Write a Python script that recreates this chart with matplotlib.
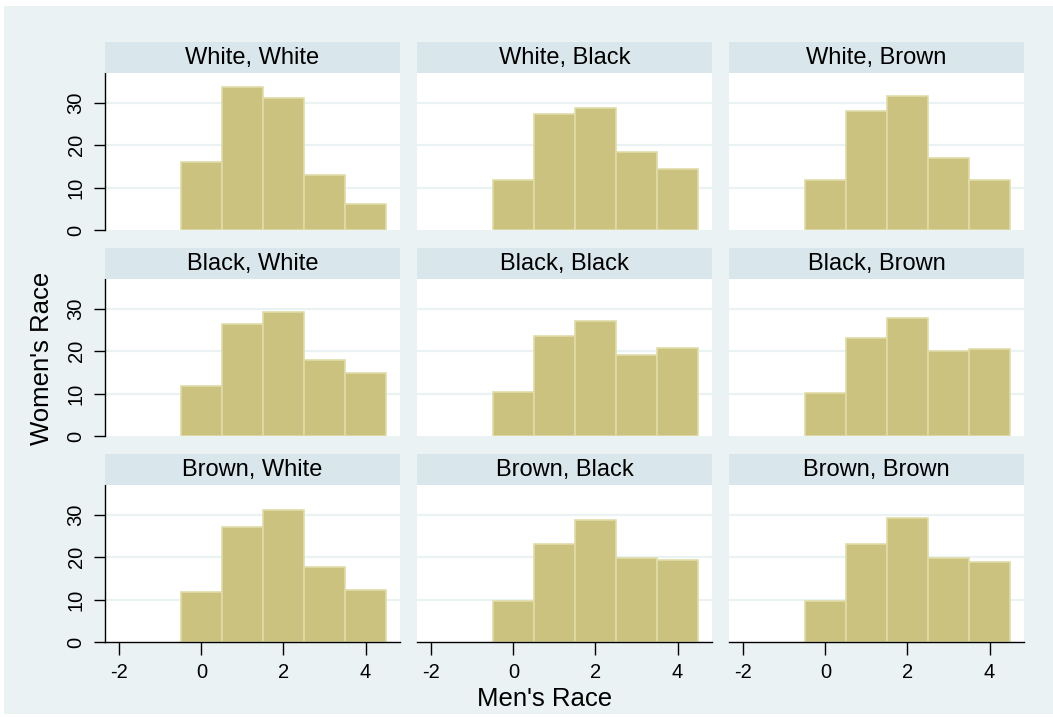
import matplotlib
matplotlib.use("Agg")
import matplotlib.pyplot as plt
from matplotlib.patches import Rectangle

plt.rcParams['font.family'] = ['Liberation Sans', 'DejaVu Sans']
plt.rcParams['axes.unicode_minus'] = False

# ---- data ----
panel_titles = [
    "White, White", "White, Black", "White, Brown",
    "Black, White", "Black, Black", "Black, Brown",
    "Brown, White", "Brown, Black", "Brown, Brown",
]
categories = [0, 1, 2, 3, 4]
ww = [16.1, 33.7, 31.1, 12.9, 6.2]
wbl = [11.7, 27.3, 28.7, 18.4, 14.4]
wbr = [11.9, 28.1, 31.6, 17.0, 11.9]
bw = [11.8, 26.5, 29.2, 17.8, 14.8]
bbl = [10.3, 23.5, 27.1, 19.0, 20.8]
bbr = [10.1, 23.0, 27.7, 20.0, 20.6]
brw = [11.7, 27.2, 31.0, 17.6, 12.3]
brbl = [9.7, 23.0, 28.7, 19.9, 19.3]
brbr = [9.7, 23.0, 29.2, 19.7, 18.8]
panel_values = [ww, wbl, wbr, bw, bbl, bbr, brw, brbl, brbr]
y_ticks = [0, 10, 20, 30]
x_ticks = [-2, 0, 2, 4]
x_label = "Men's Race"
y_label = "Women's Race"

# ---- style ----
W, H = 1053, 717
BG = '#EAF2F3'
STRIP = '#D9E6EB'
BAR = '#CAC27E'
BAR_EDGE = '#E0DCA8'

fig = plt.figure(figsize=(W / 100, H / 100), dpi=100)
fig.patch.set_facecolor('white')
fig.add_artist(Rectangle((4 / W, 1 - 714 / H), (W - 4) / W, (714 - 6) / H,
                         transform=fig.transFigure, facecolor=BG,
                         edgecolor='none', zorder=-10))

col_left = [105, 417, 729]
col_w = 295
plot_top = [73, 279, 485]
plot_h = 157
strip_h = 31

for i, (title, vals) in enumerate(zip(panel_titles, panel_values)):
    r, c = divmod(i, 3)
    left = col_left[c] / W
    width = col_w / W
    bottom = 1 - (plot_top[r] + plot_h) / H
    height = plot_h / H
    ax = fig.add_axes([left, bottom, width, height])
    ax.set_facecolor('white')
    ax.bar(categories, vals, width=1.0, color=BAR, edgecolor=BAR_EDGE,
           linewidth=1.2, zorder=3)
    ax.set_xlim(-2.35, 4.84)
    ax.set_ylim(0, 37)
    for yv in y_ticks[1:]:
        ax.axhline(yv, color=BG, linewidth=1.6, zorder=1)
    for s in ['top', 'right']:
        ax.spines[s].set_visible(False)
    ax.spines['left'].set_visible(c == 0)
    ax.spines['bottom'].set_visible(r == 2)
    for s in ['left', 'bottom']:
        ax.spines[s].set_color('black')
        ax.spines[s].set_linewidth(1.0)
        ax.spines[s].set_zorder(4)
    ax.set_yticks(y_ticks)
    ax.set_xticks(x_ticks)
    ax.tick_params(axis='y', left=(c == 0), labelleft=(c == 0),
                   length=8, width=1.0, pad=6, labelsize=14.5, color='black')
    ax.tick_params(axis='x', bottom=(r == 2), labelbottom=(r == 2),
                   length=9, width=1.0, pad=6, labelsize=14.5, color='black')
    if c == 0:
        for lab in ax.get_yticklabels():
            lab.set_rotation(90)
            lab.set_va('center')
    # strip
    sax = fig.add_axes([left, 1 - plot_top[r] / H, width, strip_h / H])
    sax.set_facecolor(STRIP)
    sax.set_xticks([])
    sax.set_yticks([])
    for s in sax.spines.values():
        s.set_visible(False)
    sax.text(0.5, 0.47, title, ha='center', va='center', fontsize=17,
             transform=sax.transAxes, color='black')

fig.text(42 / W, 1 - 358 / H, y_label, rotation=90, ha='center', va='center',
         fontsize=18.5)
fig.text(545 / W, 1 - 699 / H, x_label, ha='center', va='center',
         fontsize=18.5)

fig.savefig('out.png', dpi=100, facecolor=fig.get_facecolor())
